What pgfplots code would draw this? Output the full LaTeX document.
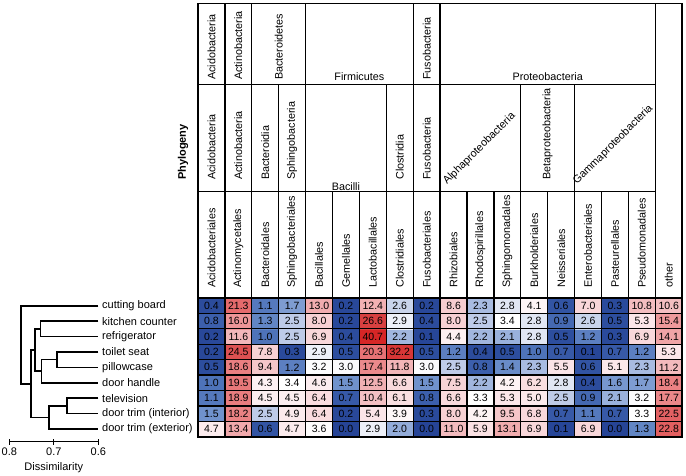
\documentclass[border=0pt]{standalone}
\usepackage{pgfplots}
\pgfplotsset{compat=1.18}
\usepackage{fontspec}
\setmainfont{Liberation Sans}
\newcommand\fs[1]{\fontsize{#1}{#1}\selectfont}
\newcommand\hf{\fs{10.8}}
\begin{document}
\begin{tikzpicture}
\useasboundingbox (0,0) rectangle (686pt,475pt);
% ---------------- heatmap ----------------
\begin{axis}[
  at={(198pt,38.3pt)}, anchor=south west,
  scale only axis, width=484.2pt, height=138.7pt,
  xmin=-0.5, xmax=17.5, ymin=-0.5, ymax=8.5,
  clip=false, axis on top,
  colormap={hm}{rgb255(0pt)=(38,68,150); rgb255(5pt)=(45,78,158); rgb255(8pt)=(60,95,172); rgb255(10pt)=(78,115,185); rgb255(15pt)=(112,146,204); rgb255(23pt)=(168,187,225); rgb255(27pt)=(212,220,239); rgb255(30pt)=(250,250,252); rgb255(34pt)=(255,255,255); rgb255(45pt)=(252,238,240); rgb255(70pt)=(248,214,217); rgb255(100pt)=(244,195,198); rgb255(140pt)=(240,165,167); rgb255(185pt)=(234,128,130); rgb255(225pt)=(227,97,99); rgb255(266pt)=(216,64,64); rgb255(407pt)=(214,38,38)},
  point meta min=0, point meta max=40.7,
  xtick={0.5,1.5,...,16.5}, xticklabels={}, xmajorgrids,
  ytick={0,...,8},
  yticklabels={door trim (exterior),door trim (interior),television,door handle,pillowcase,toilet seat,refrigerator,kitchen counter,cutting board},
  minor ytick={0.5,1.5,...,7.5}, yminorgrids,
  major tick length=0pt, minor tick length=0pt,
  major grid style={black, line width=1.3pt},
  minor grid style={black, line width=1.3pt},
  axis line style={black, line width=1.6pt},
  yticklabel style={anchor=west, inner sep=0pt, xshift=-96pt, font=\fs{11}},
  /pgf/number format/assume math mode=true,
]
\addplot[matrix plot*, mesh/cols=18, point meta=explicit, mark=none,
  nodes near coords={\pgfmathprintnumber[fixed,fixed zerofill,precision=1]{\pgfplotspointmeta}},
  every node near coord/.append style={font=\fs{10.5}, anchor=center, inner sep=0pt, text=black}]
table[x=c, y=r, meta=v] {
c r v
0 0 4.7
1 0 13.4
2 0 0.6
3 0 4.7
4 0 3.6
5 0 0.0
6 0 2.9
7 0 2.0
8 0 0.0
9 0 11.0
10 0 5.9
11 0 13.1
12 0 6.9
13 0 0.1
14 0 6.9
15 0 0.0
16 0 1.3
17 0 22.8
0 1 1.5
1 1 18.2
2 1 2.5
3 1 4.9
4 1 6.4
5 1 0.2
6 1 5.4
7 1 3.9
8 1 0.3
9 1 8.0
10 1 4.2
11 1 9.5
12 1 6.8
13 1 0.7
14 1 1.1
15 1 0.7
16 1 3.3
17 1 22.5
0 2 1.1
1 2 18.9
2 2 4.5
3 2 4.5
4 2 6.4
5 2 0.7
6 2 10.4
7 2 6.1
8 2 0.8
9 2 6.6
10 2 3.3
11 2 5.3
12 2 5.0
13 2 2.5
14 2 0.9
15 2 2.1
16 2 3.2
17 2 17.7
0 3 1.0
1 3 19.5
2 3 4.3
3 3 3.4
4 3 4.6
5 3 1.5
6 3 12.5
7 3 6.6
8 3 1.5
9 3 7.5
10 3 2.2
11 3 4.2
12 3 6.2
13 3 2.8
14 3 0.4
15 3 1.6
16 3 1.7
17 3 18.4
0 4 0.5
1 4 18.6
2 4 9.4
3 4 1.2
4 4 3.2
5 4 3.0
6 4 17.4
7 4 11.8
8 4 3.0
9 4 2.5
10 4 0.8
11 4 1.4
12 4 2.3
13 4 5.5
14 4 0.6
15 4 5.1
16 4 2.3
17 4 11.2
0 5 0.2
1 5 24.5
2 5 7.8
3 5 0.3
4 5 2.9
5 5 0.5
6 5 20.3
7 5 32.2
8 5 0.5
9 5 1.2
10 5 0.4
11 5 0.5
12 5 1.0
13 5 0.7
14 5 0.1
15 5 0.7
16 5 1.2
17 5 5.3
0 6 0.2
1 6 11.6
2 6 1.0
3 6 2.5
4 6 6.9
5 6 0.4
6 6 40.7
7 6 2.2
8 6 0.1
9 6 4.4
10 6 2.2
11 6 2.1
12 6 2.8
13 6 0.5
14 6 1.2
15 6 0.3
16 6 6.9
17 6 14.1
0 7 0.8
1 7 16.0
2 7 1.3
3 7 2.5
4 7 8.0
5 7 0.2
6 7 26.6
7 7 2.9
8 7 0.4
9 7 8.0
10 7 2.5
11 7 3.4
12 7 2.8
13 7 0.9
14 7 2.6
15 7 0.5
16 7 5.3
17 7 15.4
0 8 0.4
1 8 21.3
2 8 1.1
3 8 1.7
4 8 13.0
5 8 0.2
6 8 12.4
7 8 2.6
8 8 0.2
9 8 8.6
10 8 2.3
11 8 2.8
12 8 4.1
13 8 0.6
14 8 7.0
15 8 0.3
16 8 10.8
17 8 10.6
};
% header frame
\draw[line width=1.6pt] (-0.5,8.5) -- (-0.5,27.62) -- (17.5,27.62) -- (17.5,8.5);
\draw[line width=1.3pt] (-0.5,22.37) -- (16.5,22.37) (-0.5,15.40) -- (16.5,15.40);
\draw[line width=1.3pt] (16.5,8.5) -- (16.5,27.62)
  (0.5,8.5) -- (0.5,27.62) (1.5,8.5) -- (1.5,27.62) (3.5,8.5) -- (3.5,27.62)
  (7.5,8.5) -- (7.5,27.62) (8.5,8.5) -- (8.5,27.62)
  (2.5,8.5) -- (2.5,22.37) (6.5,8.5) -- (6.5,22.37) (11.5,8.5) -- (11.5,22.37) (13.5,8.5) -- (13.5,22.37)
  (4.5,8.5) -- (4.5,15.40) (5.5,8.5) -- (5.5,15.40) (9.5,8.5) -- (9.5,15.40) (10.5,8.5) -- (10.5,15.40)
  (12.5,8.5) -- (12.5,15.40) (14.5,8.5) -- (14.5,15.40) (15.5,8.5) -- (15.5,15.40);
% phylum row
\node[rotate=90, anchor=west, inner sep=0pt, font=\hf] at (0,22.65) {Acidobacteria};
\node[rotate=90, anchor=west, inner sep=0pt, font=\hf] at (1,22.65) {Actinobacteria};
\node[rotate=90, anchor=west, inner sep=0pt, font=\hf] at (2.5,22.65) {Bacteroidetes};
\node[font=\hf] at (5.5,22.86) {Firmicutes};
\node[rotate=90, anchor=west, inner sep=0pt, font=\hf] at (8,22.65) {Fusobacteria};
\node[font=\hf] at (12.5,22.88) {Proteobacteria};
% class row
\node[rotate=90, anchor=west, inner sep=0pt, font=\hf] at (0,16.16) {Acidobacteria};
\node[rotate=90, anchor=west, inner sep=0pt, font=\hf] at (1,16.16) {Actinobacteria};
\node[rotate=90, anchor=west, inner sep=0pt, font=\hf] at (2,16.16) {Bacteroidia};
\node[rotate=90, anchor=west, inner sep=0pt, font=\hf] at (3,16.16) {Sphingobacteria};
\node[font=\hf] at (5,15.72) {Bacilli};
\node[rotate=90, anchor=west, inner sep=0pt, font=\hf] at (7,16.16) {Clostridia};
\node[rotate=90, anchor=west, inner sep=0pt, font=\hf] at (8,16.16) {Fusobacteria};
\node[rotate=45, anchor=base west, inner sep=0pt, font=\hf] at (8.76,15.83) {Alphaproteobacteria};
\node[rotate=90, anchor=west, inner sep=0pt, font=\hf] at (12.5,16.16) {Betaproteobacteria};
\node[rotate=45, anchor=base west, inner sep=0pt, font=\hf] at (13.59,15.83) {Gammaproteobacteria};
% order row
\node[rotate=90, anchor=west, inner sep=0pt, font=\hf] at (0,9.15) {Acidobacteriales};
\node[rotate=90, anchor=west, inner sep=0pt, font=\hf] at (1,9.15) {Actinomycetales};
\node[rotate=90, anchor=west, inner sep=0pt, font=\hf] at (2,9.15) {Bacteroidales};
\node[rotate=90, anchor=west, inner sep=0pt, font=\hf] at (3,9.15) {Sphingobacteriales};
\node[rotate=90, anchor=west, inner sep=0pt, font=\hf] at (4,9.15) {Bacillales};
\node[rotate=90, anchor=west, inner sep=0pt, font=\hf] at (5,9.15) {Gemellales};
\node[rotate=90, anchor=west, inner sep=0pt, font=\hf] at (6,9.15) {Lactobacillales};
\node[rotate=90, anchor=west, inner sep=0pt, font=\hf] at (7,9.15) {Clostridiales};
\node[rotate=90, anchor=west, inner sep=0pt, font=\hf] at (8,9.15) {Fusobacteriales};
\node[rotate=90, anchor=west, inner sep=0pt, font=\hf] at (9,9.15) {Rhizobiales};
\node[rotate=90, anchor=west, inner sep=0pt, font=\hf] at (10,9.15) {Rhodospirillales};
\node[rotate=90, anchor=west, inner sep=0pt, font=\hf] at (11,9.15) {Sphingomonadales};
\node[rotate=90, anchor=west, inner sep=0pt, font=\hf] at (12,9.15) {Burkholderiales};
\node[rotate=90, anchor=west, inner sep=0pt, font=\hf] at (13,9.15) {Neisseriales};
\node[rotate=90, anchor=west, inner sep=0pt, font=\hf] at (14,9.15) {Enterobacteriales};
\node[rotate=90, anchor=west, inner sep=0pt, font=\hf] at (15,9.15) {Pasteurellales};
\node[rotate=90, anchor=west, inner sep=0pt, font=\hf] at (16,9.15) {Pseudomonadales};
\node[rotate=90, anchor=west, inner sep=0pt, font=\hf] at (17,9.15) {other};
\node[rotate=90, font=\bfseries\fs{11}] at (-1.06,17.97) {Phylogeny};
\end{axis}
% ---------------- dendrogram ----------------
\begin{axis}[
  at={(9.3pt,33.3pt)}, anchor=south west,
  scale only axis, width=89pt, height=143.7pt,
  x dir=reverse, xmin=0.6, xmax=0.8, ymin=-0.824, ymax=8.5,
  axis x line=bottom, axis y line=none,
  axis line style={-, black, line width=1pt},
  xtick={0.6,0.7,0.8},
  xticklabel={\pgfmathprintnumber[fixed,fixed zerofill,precision=1]{\tick}},
  tick align=center, major tick length=6pt,
  xtick style={black, line width=1pt},
  xticklabel style={font=\fs{11}},
  xlabel={Dissimilarity}, xlabel style={font=\fs{11}},
  /pgf/number format/assume math mode=true,
  clip=false,
]
\addplot[black, line width=1.6pt, mark=none] coordinates {(0.6,7) (0.730,7) (0.730,6) (0.6,6)};
\addplot[black, line width=1.6pt, mark=none] coordinates {(0.6,5) (0.693,5) (0.693,4) (0.6,4)};
\addplot[black, line width=1.6pt, mark=none] coordinates {(0.693,4.5) (0.728,4.5) (0.728,3) (0.6,3)};
\addplot[black, line width=1.6pt, mark=none] coordinates {(0.730,6.5) (0.742,6.5) (0.742,3.75) (0.728,3.75)};
\addplot[black, line width=1.6pt, mark=none] coordinates {(0.6,2) (0.670,2) (0.670,1) (0.6,1)};
\addplot[black, line width=1.6pt, mark=none] coordinates {(0.670,1.5) (0.711,1.5) (0.711,0) (0.6,0)};
\addplot[black, line width=1.6pt, mark=none] coordinates {(0.742,5.125) (0.751,5.125) (0.751,0.75) (0.711,0.75)};
\addplot[black, line width=1.6pt, mark=none] coordinates {(0.6,8) (0.774,8) (0.774,2.9375) (0.751,2.9375)};
\end{axis}
\end{tikzpicture}
\end{document}
